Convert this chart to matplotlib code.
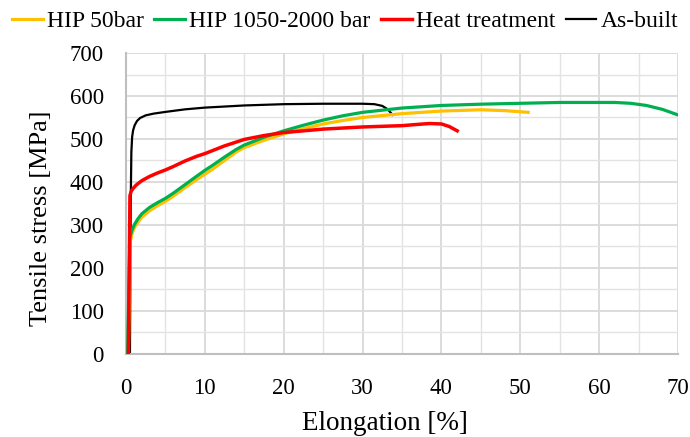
import matplotlib
matplotlib.use("Agg")
import matplotlib.pyplot as plt
from matplotlib.ticker import MultipleLocator

plt.rcParams['font.family'] = ['Liberation Serif', 'DejaVu Serif']

# Data
hip50_x = [0.3, 0.55, 0.8, 1.1, 1.5, 2, 3, 4, 5, 6, 7.5, 9, 10, 11, 12.5, 14, 15, 17.5, 20, 22.5, 25, 27.5, 30, 35, 40, 45, 48, 51]
hip50_y = [0, 262, 282, 295, 306, 318, 333, 345, 355, 367, 387, 406, 418, 430, 450, 470, 480, 497, 512, 524, 535, 543, 550, 559, 565, 568, 566, 562]

hip2000_x = [0.2, 0.5, 0.8, 1.1, 1.5, 2, 3, 4, 5, 6, 7.5, 9, 10, 11, 12.5, 14, 15, 17.5, 20, 22.5, 25, 27.5, 30, 35, 40, 45, 50, 55, 60, 62, 64, 66, 68, 70]
hip2000_y = [0, 272, 290, 302, 314, 326, 341, 352, 362, 374, 394, 414, 427, 439, 458, 476, 486, 504, 519, 532, 544, 554, 562, 572, 578, 581, 583, 585, 585, 585, 583, 578, 569, 556]

heat_x = [0.3, 0.5, 0.65, 0.9, 1.3, 2, 3, 4, 5, 6, 7.5, 9, 10, 12.5, 15, 17.5, 20, 25, 30, 35, 37, 38.5, 40, 41, 42]
heat_y = [0, 368, 378, 385, 393, 403, 413, 421, 428, 436, 449, 460, 466, 484, 499, 508, 515, 523, 528, 531, 534, 536, 535, 529, 519]

asb_x = [0.5, 0.6, 0.68, 0.78, 0.9, 1.1, 1.4, 1.8, 2.5, 3.5, 5, 7.5, 10, 15, 20, 25, 30, 31.5, 32.5, 33.2, 33.8]
asb_y = [0, 350, 470, 505, 520, 532, 542, 549, 555, 559, 563, 569, 573, 578, 581, 582, 582, 581, 577, 569, 556]

labels = ["HIP 50bar", "HIP 1050-2000 bar", "Heat treatment", "As-built"]
colors = ["#FFC000", "#00B050", "#FF0000", "#000000"]

fig = plt.figure(figsize=(6.9, 4.37), dpi=100)
ax = fig.add_axes([0.1826, 0.19, 0.80, 0.6887])

h1, = ax.plot(hip50_x, hip50_y, color=colors[0], lw=2.3, zorder=3, label=labels[0])
h2, = ax.plot(hip2000_x, hip2000_y, color=colors[1], lw=2.3, zorder=4, label=labels[1])
h3, = ax.plot(heat_x, heat_y, color=colors[2], lw=2.5, zorder=5, label=labels[2])
h4, = ax.plot(asb_x, asb_y, color=colors[3], lw=1.6, zorder=2, label=labels[3])

ax.set_xlim(0, 70)
ax.set_ylim(0, 700)
ax.xaxis.set_major_locator(MultipleLocator(10))
ax.xaxis.set_minor_locator(MultipleLocator(5))
ax.yaxis.set_major_locator(MultipleLocator(100))
ax.yaxis.set_minor_locator(MultipleLocator(50))
ax.grid(which='major', color='#d9d9d9', lw=1.3)
ax.grid(which='minor', color='#e3e3e3', lw=1.0)
ax.set_axisbelow(True)
ax.tick_params(which='both', length=0, labelsize=16.5, colors='black')
ax.tick_params(axis='y', pad=16)
ax.tick_params(axis='x', pad=17)
for s in ['top', 'right']:
    ax.spines[s].set_visible(False)
for s in ['left', 'bottom']:
    ax.spines[s].set_color('#bfbfbf')
    ax.spines[s].set_linewidth(1.5)

ax.set_xlabel("Elongation [%]", fontsize=19.5)
ax.set_ylabel("Tensile stress [MPa]", fontsize=19)
ax.xaxis.set_label_coords(0.469, -0.188)
ax.yaxis.set_label_coords(-0.134, 0.452)

fig.legend(handles=[h1, h2, h3, h4], labels=labels, loc='upper center',
           bbox_to_anchor=(0.5, 1.025), ncol=4, frameon=False, fontsize=17,
           handlelength=1.3, handletextpad=0.17, columnspacing=0.45)

fig.savefig("out.png", dpi=100)
